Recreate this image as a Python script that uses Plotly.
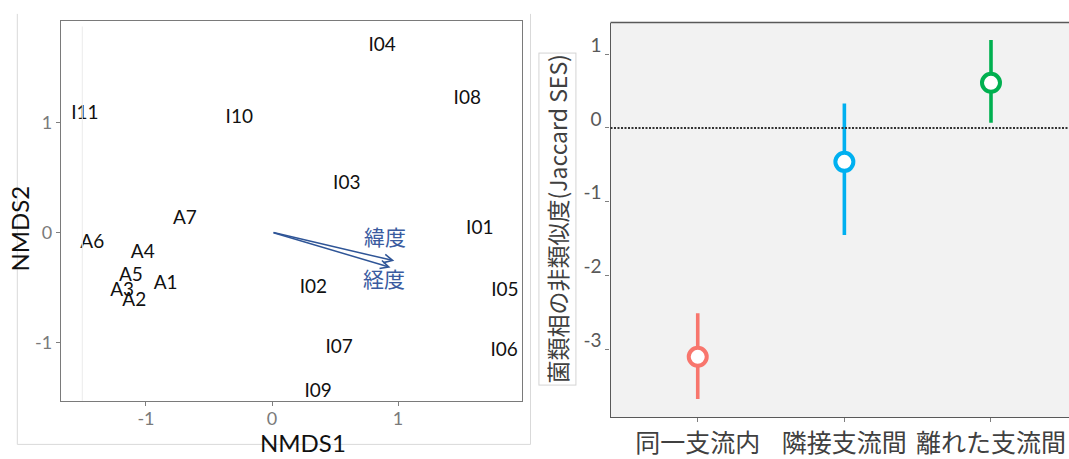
import plotly.graph_objects as go

# ---- NMDS ordination (left panel) ----
site_labels = ["I04", "I08", "I11", "I10", "I03", "A7", "I01", "A6", "A4",
               "A5", "A1", "A3", "A2", "I02", "I05", "I07", "I06", "I09"]
nmds1 = [0.874, 1.549, -1.484, -0.260, 0.593, -0.691, 1.648, -1.426, -1.025,
         -1.120, -0.844, -1.189, -1.093, 0.328, 1.847, 0.533, 1.842, 0.366]
nmds2 = [1.691, 1.210, 1.075, 1.039, 0.435, 0.120, 0.030, -0.102, -0.189,
         -0.399, -0.477, -0.538, -0.628, -0.511, -0.538, -1.051, -1.081, -1.450]

# environmental vectors fitted onto the ordination
vec_names = ["緯度", "経度"]
vec_x = [0.97, 0.94]
vec_y = [-0.26, -0.32]
vec_label_x = [0.90, 0.89]
vec_label_y = [-0.036, -0.42]

nmds_ticks = [-1, 0, 1]
nmds_ticktext = ["-1", "0", "1"]

# ---- Jaccard SES by tributary relation (right panel) ----
groups = ["同一支流内", "隣接支流間", "離れた支流間"]
ses_mean = [-3.10, -0.46, 0.61]
ses_low = [-3.67, -1.45, 0.07]
ses_high = [-2.51, 0.33, 1.19]
group_colors = ["#f8766d", "#00b0f0", "#00b050"]

ses_ticks = [1, 0, -1, -2, -3]
ses_ticktext = ["1", "0", "-1", "-2", "-3"]

W, H = 1069, 459
LATIN = "Lato, Noto Sans, Noto Sans CJK JP, sans-serif"
CJK = "Noto Sans CJK JP, Noto Sans, sans-serif"

fig = go.Figure()

# grey panel background for the SES panel
fig.add_shape(type="rect", xref="x2 domain", yref="y2 domain", x0=0, x1=1,
              y0=0, y1=1, fillcolor="#f2f2f2", line=dict(width=0), layer="below")

fig.add_trace(go.Scatter(
    x=nmds1, y=nmds2, text=site_labels, mode="text",
    textfont=dict(family=LATIN, size=19, color="#111111"),
    textposition="middle center", xaxis="x", yaxis="y", showlegend=False,
    hoverinfo="skip",
))

for i, g in enumerate(groups):
    fig.add_trace(go.Scatter(
        x=[g], y=[ses_mean[i]], mode="markers", xaxis="x2", yaxis="y2",
        showlegend=False,
        error_y=dict(type="data", symmetric=False,
                     array=[ses_high[i] - ses_mean[i]],
                     arrayminus=[ses_mean[i] - ses_low[i]],
                     color=group_colors[i], thickness=3.6, width=0),
        marker=dict(size=18, color="white",
                    line=dict(color=group_colors[i], width=4)),
    ))

annotations = []
for name, tx, ty, lx, ly in zip(vec_names, vec_x, vec_y, vec_label_x, vec_label_y):
    annotations.append(dict(
        x=tx, y=ty, ax=0, ay=0, xref="x", yref="y", axref="x", ayref="y",
        showarrow=True, arrowhead=5, arrowsize=1.1, arrowwidth=1.5,
        arrowcolor="#2f5597", text="",
    ))
    annotations.append(dict(
        x=lx, y=ly, xref="x", yref="y", text=name, showarrow=False,
        xanchor="center", yanchor="middle",
        font=dict(family=CJK, size=21, color="#3a5ba0"),
    ))

annotations += [
    dict(x=303 / W, y=1 - 446 / H, xref="paper", yref="paper", text="NMDS1",
         xanchor="center", yanchor="middle", showarrow=False,
         font=dict(family=LATIN, size=24, color="#111111")),
    dict(x=19.6 / W, y=1 - 231 / H, xref="paper", yref="paper", text="NMDS2",
         xanchor="center", yanchor="middle", textangle=-90, showarrow=False,
         font=dict(family=LATIN, size=24, color="#111111")),
    dict(x=557.5 / W, y=1 - 221 / H, xref="paper", yref="paper",
         xanchor="center", yanchor="middle",
         text="菌類相の非類似度(Jaccard SES)", textangle=-90, showarrow=False,
         font=dict(family=CJK, size=23, color="#404040"),
         bordercolor="#d4d4d4", borderwidth=1, borderpad=1, bgcolor="white"),
]

shapes = [
    # light outer frame around the ordination figure
    dict(type="line", xref="paper", yref="paper", x0=17.3 / W, x1=17.3 / W,
         y0=1 - 14 / H, y1=1 - 448.3 / H, line=dict(color="#d9d9d9", width=1)),
    dict(type="line", xref="paper", yref="paper", x0=17.3 / W, x1=530.5 / W,
         y0=1 - 448.3 / H, y1=1 - 448.3 / H, line=dict(color="#d9d9d9", width=1)),
    dict(type="line", xref="paper", yref="paper", x0=530.5 / W, x1=530.5 / W,
         y0=1 - 14 / H, y1=1 - 448.3 / H, line=dict(color="#d9d9d9", width=1)),
    # faint guide inside the ordination panel
    dict(type="line", xref="x", yref="y domain", x0=-1.505, x1=-1.505,
         y0=0, y1=0.985, line=dict(color="#ebebeb", width=1)),
    # zero reference for SES
    dict(type="line", xref="x2 domain", yref="y2", x0=0, x1=1, y0=0, y1=0,
         line=dict(color="#333333", width=2, dash="2px,1.5px")),
    # top border of the SES panel
    dict(type="line", xref="x2 domain", yref="y2 domain", x0=0, x1=1,
         y0=1, y1=1, line=dict(color="#595959", width=1.3)),
]
for s in shapes:
    fig.add_shape(**s)

fig.update_layout(
    width=W, height=H, margin=dict(l=0, r=0, t=0, b=0),
    paper_bgcolor="white", plot_bgcolor="white",
    showlegend=False,
    annotations=annotations,
    xaxis=dict(domain=[61 / W, 522 / W], range=[-1.674, 1.983],
               tickvals=nmds_ticks, ticktext=nmds_ticktext,
               showgrid=False, zeroline=False, ticks="outside", ticklen=4,
               tickcolor="#7f7f7f", showline=True, mirror=True,
               linecolor="#7a7a7a", linewidth=1.3, ticklabelstandoff=-3,
               tickfont=dict(family=LATIN, size=18, color="#7a7a7a"),
               anchor="y"),
    yaxis=dict(domain=[1 - 404.3 / H, 1 - 21 / H], range=[-1.532, 1.922],
               tickvals=nmds_ticks, ticktext=nmds_ticktext,
               showgrid=False, zeroline=False, ticks="outside", ticklen=4,
               tickcolor="#7f7f7f", showline=True, mirror=True,
               linecolor="#7a7a7a", linewidth=1.3,
               tickfont=dict(family=LATIN, size=18, color="#7a7a7a"),
               anchor="x"),
    xaxis2=dict(domain=[610.5 / W, 1], range=[-0.595, 2.532],
                type="category", categoryorder="array", categoryarray=groups,
                showgrid=False, zeroline=False, ticks="outside", ticklen=4,
                tickcolor="#7f7f7f", showline=True, linecolor="#595959",
                linewidth=1.3,
                tickfont=dict(family=CJK, size=25, color="#404040"),
                anchor="y2"),
    yaxis2=dict(domain=[1 - 420.7 / H, 1 - 22.7 / H], range=[-3.915, 1.427],
                tickvals=ses_ticks, ticktext=ses_ticktext,
                showgrid=False, zeroline=False, ticks="outside", ticklen=4,
                tickcolor="#7f7f7f", showline=True, linecolor="#595959",
                linewidth=1.3, ticklabelshift=-9,
                tickfont=dict(family=LATIN, size=19, color="#595959"),
                anchor="x2"),
)

fig.write_html("out.html")
